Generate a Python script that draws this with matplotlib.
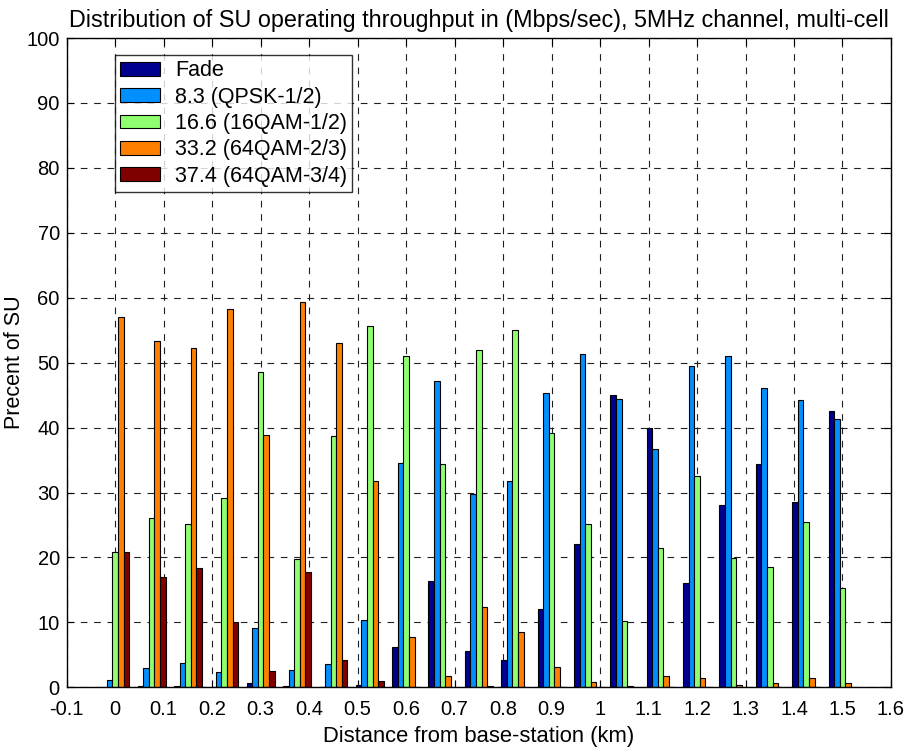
import numpy as np
import matplotlib
matplotlib.use("Agg")
import matplotlib.pyplot as plt

plt.rcParams['font.family'] = ['Liberation Sans', 'DejaVu Sans']

distances = [0.0, 0.075, 0.15, 0.225, 0.3, 0.375, 0.45, 0.525, 0.6, 0.675, 0.75,
             0.825, 0.9, 0.975, 1.05, 1.125, 1.2, 1.275, 1.35, 1.425, 1.5]

fade = [0.0, 0.2, 0.15, 0.0, 0.6, 0.2, 0.0, 0.4, 6.2, 16.4, 5.6,
        4.2, 12.1, 22.0, 45.0, 39.9, 16.1, 28.0, 34.4, 28.5, 42.6]
qpsk = [1.07, 2.9, 3.8, 2.3, 9.1, 2.6, 3.6, 10.4, 34.6, 47.1, 29.7,
        31.8, 45.3, 51.4, 44.4, 36.7, 49.5, 51.0, 46.1, 44.2, 41.3]
qam16 = [20.8, 26.1, 25.1, 29.1, 48.5, 19.7, 38.7, 55.7, 51.0, 34.4, 52.0,
         55.0, 39.1, 25.1, 10.2, 21.4, 32.5, 19.9, 18.5, 25.5, 15.3]
qam64_23 = [57.0, 53.4, 52.3, 58.2, 38.9, 59.3, 53.1, 31.8, 7.8, 1.7, 12.3,
            8.5, 3.2, 0.8, 0.2, 1.7, 1.5, 0.4, 0.6, 1.5, 0.6]
qam64_34 = [20.8, 17.0, 18.3, 10.0, 2.55, 17.8, 4.2, 1.0, 0.0, 0.0, 0.2,
            0.0, 0.0, 0.0, 0.0, 0.0, 0.0, 0.0, 0.0, 0.0, 0.0]

series_labels = ['Fade', '8.3 (QPSK-1/2)', '16.6 (16QAM-1/2)',
                 '33.2 (64QAM-2/3)', '37.4 (64QAM-3/4)']
series = [fade, qpsk, qam16, qam64_23, qam64_34]
colors = ['#00008f', '#008fff', '#8fff70', '#ff8000', '#800000']

xticks = [-0.1, 0, 0.1, 0.2, 0.3, 0.4, 0.5, 0.6, 0.7, 0.8, 0.9, 1.0,
          1.1, 1.2, 1.3, 1.4, 1.5, 1.6]
xticklabels = ['-0.1', '0', '0.1', '0.2', '0.3', '0.4', '0.5', '0.6', '0.7',
               '0.8', '0.9', '1', '1.1', '1.2', '1.3', '1.4', '1.5', '1.6']
yticks = list(range(0, 101, 10))

fig = plt.figure(figsize=(9.10, 7.49), dpi=100)
ax = fig.add_axes([0.0733, 0.0824, 0.9058, 0.8668])

x = np.array(distances)
step = x[1] - x[0]
n = len(series)
group_w = step * n / (n + 1.5)
slot = group_w / n
for i, (vals, lab, col) in enumerate(zip(series, series_labels, colors)):
    offs = (i - (n - 1) / 2) * slot
    ax.bar(x + offs, vals, width=slot, color=col, edgecolor='black',
           linewidth=0.8, label=lab, zorder=3)

ax.set_xlim(-0.1, 1.6)
ax.set_ylim(0, 100)
ax.set_xticks(xticks)
ax.set_xticklabels(xticklabels)
ax.set_yticks(yticks)
ax.tick_params(direction='in', top=True, right=True, labelsize=14.5, length=5,
               width=0.8)
ax.tick_params(axis='x', pad=9)
ax.tick_params(axis='y', pad=5)
ax.grid(True, color='#202020', linestyle=(0, (6, 6)), linewidth=0.8, zorder=0)
ax.set_axisbelow(True)
for sp in ax.spines.values():
    sp.set_linewidth(1.0)
    sp.set_zorder(5)

ax.set_title('Distribution of SU operating throughput in (Mbps/sec), 5MHz channel, multi-cell',
             fontsize=16.8, pad=8)
ax.set_xlabel('Distance from base-station (km)', fontsize=15.8, labelpad=5)
ax.set_ylabel('Precent of SU', fontsize=15.5, labelpad=1)

leg = ax.legend(loc='upper left', bbox_to_anchor=(0.058, 0.974), fontsize=15.5,
                frameon=True, fancybox=False, edgecolor='black',
                borderpad=0.25, labelspacing=0.25, handlelength=1.85,
                handleheight=0.62, handletextpad=0.7, borderaxespad=0)
leg.get_frame().set_linewidth(1.0)
leg.set_zorder(10)

fig.savefig('out.png', dpi=100)
